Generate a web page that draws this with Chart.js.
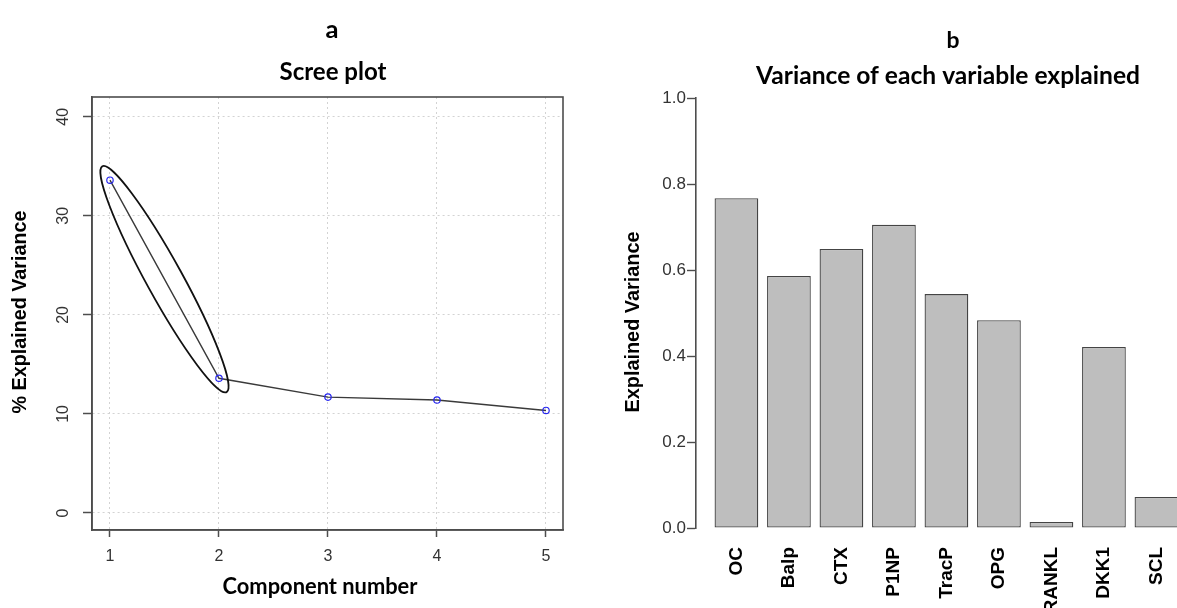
<!DOCTYPE html>
<html>
<head>
<meta charset="utf-8">
<script src="https://cdn.jsdelivr.net/npm/chart.js@4.4.1/dist/chart.umd.min.js"></script>
<style>
  html, body { margin: 0; padding: 0; background: #fff; overflow: hidden; }
  #wrap { position: relative; width: 1177px; height: 608px; }
  #screeBox { position: absolute; left: 0; top: 0; width: 590px; height: 608px; }
  #varBox { position: absolute; left: 590px; top: 0; width: 587px; height: 608px; }
</style>
</head>
<body>
<div id="wrap">
  <div id="screeBox"><canvas id="screeChart"></canvas></div>
  <div id="varBox"><canvas id="varChart"></canvas></div>
</div>
<script>
// Panel a: scree plot
const components = [1, 2, 3, 4, 5];
const explainedPct = [33.6, 13.6, 11.7, 11.4, 10.35];
const screeYTicks = [0, 10, 20, 30, 40];

// Panel b: variance of each variable explained
const variables = ['OC', 'Balp', 'CTX', 'P1NP', 'TracP', 'OPG', 'RANKL', 'DKK1', 'SCL'];
const varExplained = [0.767, 0.586, 0.649, 0.705, 0.544, 0.483, 0.014, 0.421, 0.072];
const varYTicks = [0, 0.2, 0.4, 0.6, 0.8, 1.0];

const ARIAL = "'Liberation Sans', Arial, sans-serif";
const CALIBRI = "Lato, 'Open Sans', sans-serif";
const AXIS_GREY = '#4d4d4d';

// barplot() style positions: width 1, space 0.2
const barCenter = i => 0.7 + 1.2 * i;

// Free text (titles, axis titles), optionally scaled to a target width
const panelText = {
  id: 'panelText',
  afterDraw(chart, args, opts) {
    const ctx = chart.ctx;
    (opts.items || []).forEach(item => {
      ctx.save();
      ctx.translate(item.x, item.y);
      if (item.rotate) ctx.rotate(item.rotate * Math.PI / 180);
      let size = item.size || 20;
      ctx.font = 'bold ' + size + 'px ' + item.family;
      if (item.fitWidth) {
        size = size * item.fitWidth / ctx.measureText(item.text).width;
        ctx.font = 'bold ' + size.toFixed(2) + 'px ' + item.family;
      }
      ctx.fillStyle = item.color || '#000';
      ctx.textAlign = 'center';
      ctx.textBaseline = item.baseline || 'alphabetic';
      ctx.fillText(item.text, 0, 0);
      ctx.restore();
    });
  }
};

// Box around the plot region
const frame = {
  id: 'frame',
  afterDraw(chart, args, opts) {
    if (!opts.show) return;
    const {ctx, chartArea: a} = chart;
    ctx.save();
    ctx.strokeStyle = AXIS_GREY;
    ctx.lineWidth = 1.6;
    ctx.strokeRect(a.left, a.top, a.right - a.left, a.bottom - a.top);
    ctx.restore();
  }
};

// Ellipse around two of the points
const ellipse = {
  id: 'ellipse',
  afterDatasetsDraw(chart, args, opts) {
    const pts = chart.getDatasetMeta(0).data;
    const p = pts[opts.from], q = pts[opts.to];
    if (!p || !q) return;
    const ctx = chart.ctx;
    const half = Math.hypot(q.x - p.x, q.y - p.y) / 2;
    const ang = Math.atan2(q.y - p.y, q.x - p.x);
    ctx.save();
    ctx.strokeStyle = '#111';
    ctx.lineWidth = 1.8;
    ctx.beginPath();
    ctx.ellipse((p.x + q.x) / 2, (p.y + q.y) / 2, half * opts.stretch, opts.halfWidth, ang, 0, Math.PI * 2);
    ctx.stroke();
    ctx.restore();
  }
};

function initScree() {
  const ctx = document.getElementById('screeChart').getContext('2d');
  const gridOpts = {
    color: '#d3d3d3',
    lineWidth: 1,
    tickColor: AXIS_GREY,
    tickWidth: 1.5,
    tickBorderDash: []
  };
  new Chart(ctx, {
    type: 'line',
    data: {
      datasets: [{
        data: components.map((c, i) => ({ x: c, y: explainedPct[i] })),
        borderColor: '#3a3a3a',
        borderWidth: 1.4,
        pointRadius: 3.2,
        pointBorderWidth: 1.2,
        pointBorderColor: '#2626f0',
        pointBackgroundColor: 'rgba(0,0,0,0)',
        tension: 0,
        fill: false
      }]
    },
    options: {
      responsive: true,
      maintainAspectRatio: false,
      animation: false,
      events: [],
      layout: { padding: { top: 97, right: 27, left: 0, bottom: 0 } },
      plugins: {
        legend: { display: false },
        tooltip: { enabled: false },
        frame: { show: true },
        ellipse: { from: 0, to: 1, stretch: 1.14, halfWidth: 18 },
        panelText: {
          items: [
            { text: 'a', x: 332, y: 38, family: CALIBRI, fitWidth: 13 },
            { text: 'Scree plot', x: 333, y: 80, family: CALIBRI, fitWidth: 107 },
            { text: 'Component number', x: 320, y: 594, family: CALIBRI, fitWidth: 195 },
            { text: '% Explained Variance', x: 21, y: 312, family: ARIAL, fitWidth: 203, rotate: -90, baseline: 'middle' }
          ]
        }
      },
      scales: {
        x: {
          type: 'linear',
          min: 0.835,
          max: 5.156,
          afterBuildTicks: s => { s.ticks = components.map(v => ({ value: v })); },
          afterFit: s => { s.height = 78; },
          grid: { ...gridOpts, tickLength: 7 },
          border: { color: AXIS_GREY, width: 1.6, dash: [2, 3] },
          ticks: { color: '#333', padding: 10, maxRotation: 0, font: { family: ARIAL, size: 16 } }
        },
        y: {
          min: -1.72,
          max: 42,
          afterBuildTicks: s => { s.ticks = screeYTicks.map(v => ({ value: v })); },
          afterFit: s => { s.width = 92; },
          grid: { ...gridOpts, tickLength: 9 },
          border: { color: AXIS_GREY, width: 1.6, dash: [2, 3] },
          ticks: { color: '#333', padding: 11, minRotation: 90, maxRotation: 90, crossAlign: 'center', font: { family: ARIAL, size: 16 } }
        }
      }
    },
    plugins: [frame, ellipse, panelText]
  });
}

function initVariance() {
  const ctx = document.getElementById('varChart').getContext('2d');
  new Chart(ctx, {
    type: 'bar',
    data: {
      datasets: [{
        data: variables.map((v, i) => ({ x: barCenter(i), y: varExplained[i] })),
        backgroundColor: '#bebebe',
        borderColor: '#444',
        borderWidth: 1.3,
        borderSkipped: false,
        barPercentage: 1 / 1.2,
        categoryPercentage: 1
      }]
    },
    options: {
      responsive: true,
      maintainAspectRatio: false,
      animation: false,
      events: [],
      layout: { padding: { top: 98, right: 0, left: 0, bottom: 0 } },
      plugins: {
        legend: { display: false },
        tooltip: { enabled: false },
        frame: { show: false },
        panelText: {
          items: [
            { text: 'b', x: 363, y: 48, family: CALIBRI, fitWidth: 13 },
            { text: 'Variance of each variable explained', x: 358, y: 84, family: CALIBRI, fitWidth: 384 },
            { text: 'Explained Variance', x: 44, y: 322, family: ARIAL, fitWidth: 181, rotate: -90, baseline: 'middle' }
          ]
        }
      },
      scales: {
        x: {
          type: 'linear',
          offset: false,
          min: -0.224,
          max: 10.77,
          afterBuildTicks: s => { s.ticks = variables.map((v, i) => ({ value: barCenter(i) })); },
          afterFit: s => { s.height = 80; s.paddingLeft = 0; s.paddingRight = 0; },
          grid: { display: false, drawTicks: false },
          border: { display: false },
          ticks: {
            autoSkip: false,
            minRotation: 90,
            maxRotation: 90,
            padding: 19,
            color: '#000',
            font: { family: ARIAL, size: 19, weight: 'bold' },
            callback: (value, index) => variables[index]
          }
        },
        y: {
          min: 0,
          max: 1,
          afterBuildTicks: s => { s.ticks = varYTicks.map(v => ({ value: v })); },
          afterFit: s => { s.width = 106; s.paddingTop = 0; s.paddingBottom = 0; },
          grid: { drawOnChartArea: false, tickLength: 9, tickColor: AXIS_GREY, tickWidth: 1.4 },
          border: { color: AXIS_GREY, width: 1.6 },
          ticks: {
            color: '#333',
            padding: 1,
            font: { family: ARIAL, size: 17 },
            callback: v => v.toFixed(1)
          }
        }
      }
    },
    plugins: [panelText]
  });
}

document.addEventListener('DOMContentLoaded', () => {
  initScree();
  initVariance();
});
</script>
</body>
</html>
